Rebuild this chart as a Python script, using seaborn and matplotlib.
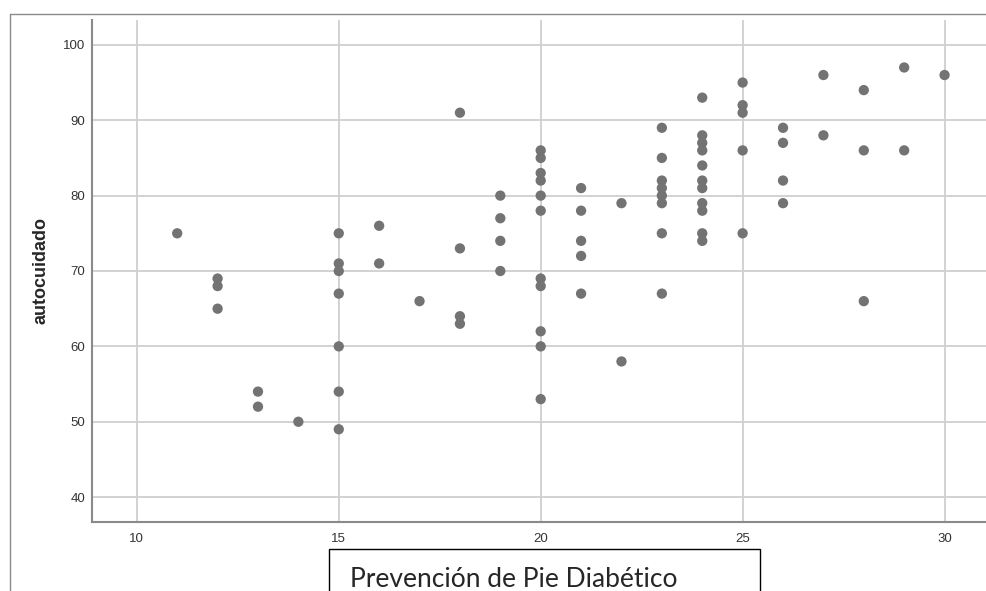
import matplotlib
matplotlib.use("Agg")
import matplotlib.pyplot as plt
import seaborn as sns
import pandas as pd
from matplotlib.patches import Rectangle
from matplotlib.lines import Line2D

# Data
prevencion = [11, 12, 12, 12, 13, 13, 14,
              15, 15, 15, 15, 15, 15, 15,
              16, 16, 17, 18, 18, 18, 18,
              19, 19, 19, 19,
              20, 20, 20, 20, 20, 20, 20, 20, 20, 20, 20,
              21, 21, 21, 21, 21, 22, 22,
              23, 23, 23, 23, 23, 23, 23, 23,
              24, 24, 24, 24, 24, 24, 24, 24, 24, 24, 24,
              25, 25, 25, 25, 25,
              26, 26, 26, 26, 27, 27, 28, 28, 28, 29, 29, 30]
autocuidado = [75, 69, 68, 65, 54, 52, 50,
               75, 71, 70, 67, 60, 54, 49,
               76, 71, 66, 91, 73, 64, 63,
               80, 77, 74, 70,
               86, 85, 83, 82, 80, 78, 69, 68, 62, 60, 53,
               81, 78, 74, 72, 67, 79, 58,
               89, 85, 82, 81, 80, 79, 75, 67,
               93, 88, 87, 86, 84, 82, 81, 79, 78, 75, 74,
               95, 92, 91, 86, 75,
               89, 87, 82, 79, 96, 88, 94, 86, 66, 97, 86, 96]
x_ticks = [10, 15, 20, 25, 30]
y_ticks = [40, 50, 60, 70, 80, 90, 100]
x_label = "Prevención de Pie Diabético"
y_label = "autocuidado"

df = pd.DataFrame({"prev": prevencion, "auto": autocuidado})

sns.set_style("white")
fig = plt.figure(figsize=(9.86, 5.91), dpi=100)
ax = fig.add_axes([92 / 986, 1 - 522 / 591, 1 - 92 / 986 + 0.01, (522 - 20) / 591])

sns.scatterplot(data=df, x="prev", y="auto", ax=ax, color="#737373",
                s=55, edgecolor="none", zorder=3)

ax.set_xlim(8.89, 31.27)
ax.set_ylim(36.7, 103.3)
ax.set_xticks(x_ticks)
ax.set_yticks(y_ticks)
ax.grid(True, color="#cfcfcf", linewidth=1.3)
ax.set_axisbelow(True)
for s in ["top", "right"]:
    ax.spines[s].set_visible(False)
for s in ["left", "bottom"]:
    ax.spines[s].set_color("#8a8a8a")
    ax.spines[s].set_linewidth(1.5)
ax.tick_params(axis="both", length=0, labelsize=9.5, labelcolor="#333333")
ax.tick_params(axis="x", pad=8)
ax.tick_params(axis="y", pad=5)
for lab in ax.get_xticklabels() + ax.get_yticklabels():
    lab.set_family(["Liberation Sans Narrow", "Liberation Sans", "DejaVu Sans"])
ax.set_xlabel("")
ax.set_ylabel("")

fig.text(41 / 986, 1 - 271 / 591, y_label, rotation=90, ha="center", va="center",
         fontsize=13, fontweight="bold", family=["Liberation Sans", "DejaVu Sans"])

# outer frame lines
fig.add_artist(Line2D([10 / 986, 10 / 986], [0, 1 - 14 / 591], transform=fig.transFigure,
                      color="#8a8a8a", linewidth=1.0))
fig.add_artist(Line2D([10 / 986, 1], [1 - 14 / 591, 1 - 14 / 591], transform=fig.transFigure,
                      color="#8a8a8a", linewidth=1.0))

# x-label box
fig.add_artist(Rectangle((329 / 986, -0.01), (760 - 329) / 986, 0.01 + (591 - 549) / 591,
                         transform=fig.transFigure, facecolor="white",
                         edgecolor="black", linewidth=1.0))
fig.text(350 / 986, 1 - 587 / 591, x_label, ha="left", va="baseline", fontsize=19,
         family=["Lato", "DejaVu Sans"])

fig.savefig("out.png", dpi=100)
